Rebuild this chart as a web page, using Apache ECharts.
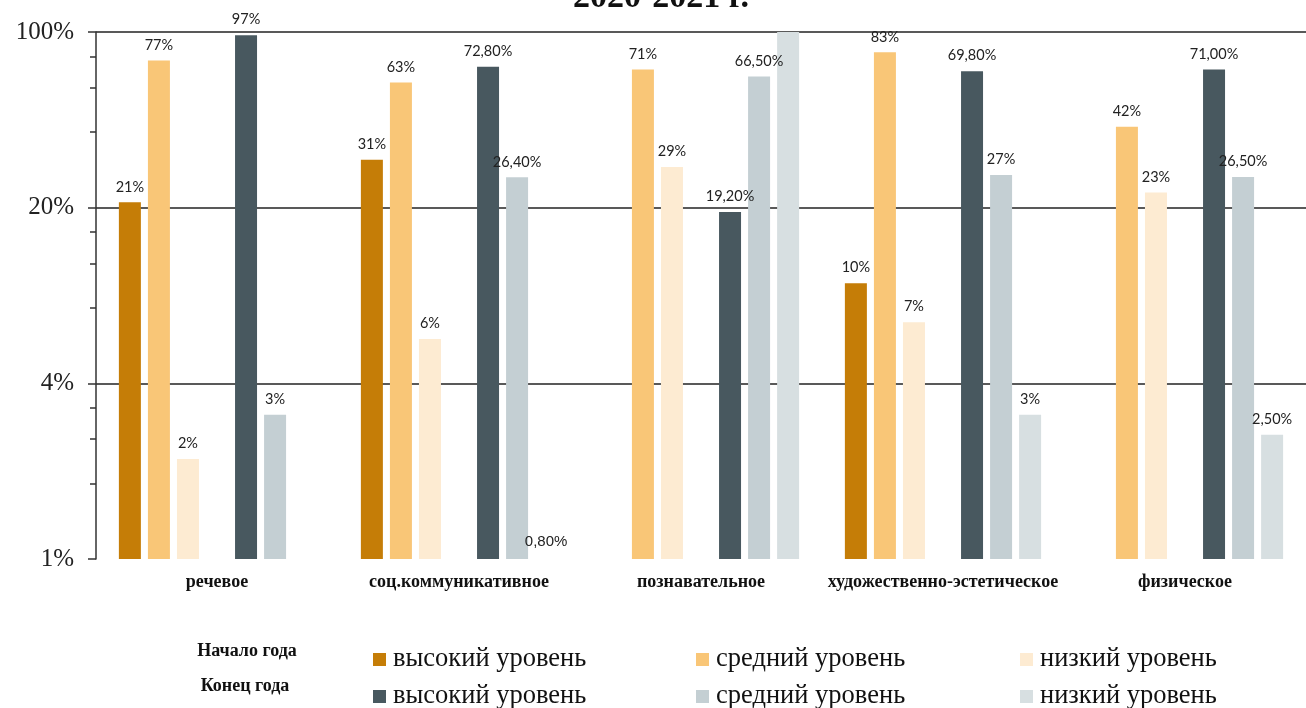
<!DOCTYPE html>
<html>
<head>
<meta charset="utf-8">
<script src="https://cdn.jsdelivr.net/npm/echarts@6/dist/echarts.min.js"></script>
<style>
  html, body { margin: 0; padding: 0; background: #fff; }
  #chart { width: 1306px; height: 708px; }
</style>
</head>
<body>
<div id="chart"></div>
<script>
// ---- data (percent) ----
const categories = ['речевое', 'соц.коммуникативное', 'познавательное', 'художественно-эстетическое', 'физическое'];

const startHigh = [21, 31, null, 10, null];
const startMid  = [77, 63, 71, 83, 42];
const startLow  = [2, 6, 29, 7, 23];
const endHigh   = [97, 72.8, 19.2, 69.8, 71.0];
const endMid    = [3, 26.4, 66.5, 27, 26.5];
const endLow    = [null, 0.8, 100, 3, 2.5];

const startHighLabels = ['21%', '31%', '', '10%', ''];
const startMidLabels  = ['77%', '63%', '71%', '83%', '42%'];
const startLowLabels  = ['2%', '6%', '29%', '7%', '23%'];
const endHighLabels   = ['97%', '72,80%', '19,20%', '69,80%', '71,00%'];
const endMidLabels    = ['3%', '26,40%', '66,50%', '27%', '26,50%'];
const endLowLabels    = ['', '0,80%', '', '3%', '2,50%'];

const levelNames = ['высокий уровень', 'средний уровень', 'низкий уровень'];
const rowNames = ['Начало года', 'Конец года'];
const titleText = '2020-2021 г.';

// y axis: logarithmic, base 5, from 0.8% (labelled "1%") to 100%
const yMin = 0.8, yMax = 100;
const majorTickValues = [0.8, 4, 20, 100];
const majorTickLabels = ['1%', '4%', '20%', '100%'];
const allTickValues = [0.8, 1.6, 2.4, 3.2, 4, 8, 12, 16, 20, 40, 60, 80, 100];

// the axis is expressed in units of its minimum so that bars grow from the bottom
const toAxis = v => v / yMin;

// ---- styles ----
const startColors = ['#C57D07', '#F9C677', '#FDEBD2'];
const endColors = ['#48585F', '#C4CFD3', '#D7DFE1'];

const chart = echarts.init(document.getElementById('chart'));

function makeSeries(name, data, labels, color) {
  return {
    name: name,
    type: 'bar',
    barWidth: 22,
    barGap: '32%',
    data: data.map(v => v == null ? null : {
      value: toAxis(v),
      label: v <= yMin ? { fontFamily: 'Liberation Sans', fontSize: 15, distance: 10 } : undefined
    }),
    itemStyle: { color: color },
    label: {
      show: true,
      position: 'top',
      distance: 8,
      fontFamily: 'Lato',
      fontSize: 14.5,
      color: '#222',
      formatter: p => labels[p.dataIndex] || ''
    }
  };
}

const sName = (r, i) => rowNames[r] + ': ' + levelNames[i];

const series = [
  makeSeries(sName(0, 0), startHigh, startHighLabels, startColors[0]),
  makeSeries(sName(0, 1), startMid, startMidLabels, startColors[1]),
  makeSeries(sName(0, 2), startLow, startLowLabels, startColors[2]),
  { name: 'gap', type: 'bar', barWidth: 22, data: categories.map(() => null) },
  makeSeries(sName(1, 0), endHigh, endHighLabels, endColors[0]),
  makeSeries(sName(1, 1), endMid, endMidLabels, endColors[1]),
  makeSeries(sName(1, 2), endLow, endLowLabels, endColors[2])
];

const legendLefts = [373, 696, 1020];
const legendTops = [646, 683];
const legends = [];
rowNames.forEach((_, r) => {
  levelNames.forEach((_, i) => {
    legends.push({
      left: legendLefts[i],
      top: legendTops[r],
      icon: 'rect',
      itemWidth: 13,
      itemHeight: 13,
      selectedMode: false,
      data: [sName(r, i)],
      formatter: n => n.split(': ')[1],
      padding: 0,
      textStyle: {
        fontFamily: 'Liberation Serif',
        fontSize: 26.5,
        color: '#111',
        padding: [0, 0, 0, 2]
      }
    });
  });
});

function majorLabel(v) {
  let best = 0;
  majorTickValues.forEach((t, i) => {
    if (Math.abs(Math.log(toAxis(t)) - Math.log(v)) < Math.abs(Math.log(toAxis(majorTickValues[best])) - Math.log(v))) best = i;
  });
  return majorTickLabels[best];
}

const option = {
  animation: false,
  backgroundColor: '#fff',
  grid: { left: 96, right: 0, top: 32, bottom: 149, containLabel: false },
  legend: legends,
  graphic: [
    {
      type: 'text', x: 661, y: 15,
      style: {
        text: titleText,
        fontFamily: 'Liberation Serif', fontWeight: 'bold', fontSize: 34,
        fill: '#111', align: 'center', verticalAlign: 'bottom'
      }
    },
    {
      type: 'text', x: 247, y: 651,
      style: {
        text: rowNames[0], fontFamily: 'Liberation Serif', fontWeight: 'bold', fontSize: 18,
        fill: '#111', align: 'center', verticalAlign: 'middle'
      }
    },
    {
      type: 'text', x: 245, y: 686,
      style: {
        text: rowNames[1], fontFamily: 'Liberation Serif', fontWeight: 'bold', fontSize: 18,
        fill: '#111', align: 'center', verticalAlign: 'middle'
      }
    }
  ],
  xAxis: {
    type: 'category',
    data: categories,
    axisLine: { show: false },
    axisTick: { show: false },
    axisLabel: {
      interval: 0,
      margin: 14,
      fontFamily: 'Liberation Serif',
      fontWeight: 'bold',
      fontSize: 18,
      color: '#111'
    }
  },
  yAxis: [
    {
      type: 'log',
      logBase: 5,
      min: toAxis(yMin),
      max: toAxis(yMax),
      position: 'left',
      axisLine: { show: true, lineStyle: { color: '#333', width: 1.5 } },
      axisTick: { show: true, length: 6, customValues: allTickValues.map(toAxis), lineStyle: { color: '#333', width: 1.5 } },
      axisLabel: {
        show: true,
        customValues: majorTickValues.map(toAxis),
        margin: 22,
        fontFamily: 'Liberation Serif',
        fontSize: 25,
        color: '#222',
        formatter: majorLabel
      },
      splitLine: { show: false }
    },
    {
      type: 'value',
      min: 0,
      max: majorTickValues.length - 1,
      interval: 1,
      position: 'left',
      axisLine: { show: false },
      axisTick: { show: true, length: 8, lineStyle: { color: '#333', width: 1.5 } },
      axisLabel: { show: false },
      splitLine: { show: true, lineStyle: { color: ['rgba(0,0,0,0)', '#222', '#222', '#222'], width: 1.5 } }
    }
  ],
  series: series
};

chart.setOption(option);
</script>
</body>
</html>
